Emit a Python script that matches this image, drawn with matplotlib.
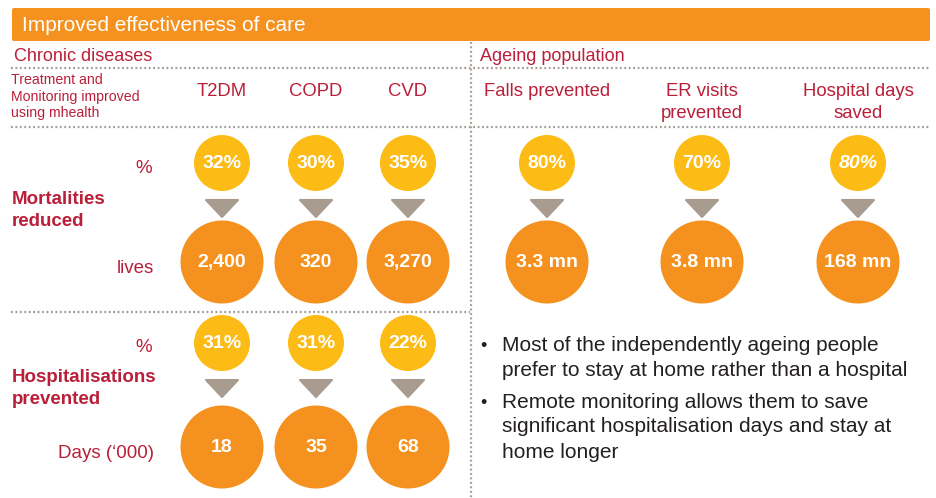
import matplotlib
matplotlib.use("Agg")
import matplotlib.pyplot as plt
from matplotlib.patches import Circle, Polygon, FancyBboxPatch

plt.rcParams['font.family'] = ['Liberation Sans', 'DejaVu Sans']

# ---- data ----
title = "Improved effectiveness of care"
chronic_title = "Chronic diseases"
ageing_title = "Ageing population"
chronic_categories = ["T2DM", "COPD", "CVD"]
ageing_categories = ["Falls prevented", "ER visits\nprevented", "Hospital days\nsaved"]
mortality_pct = ["32%", "30%", "35%"]
mortality_lives = ["2,400", "320", "3,270"]
hosp_pct = ["31%", "31%", "22%"]
hosp_days = ["18", "35", "68"]
ageing_pct = ["80%", "70%", "80%"]
ageing_values = ["3.3 mn", "3.8 mn", "168 mn"]
header_note = ["Treatment and", "Monitoring improved", "using mhealth"]
bullets = [["Most of the independently ageing people",
            "prefer to stay at home rather than a hospital"],
           ["Remote monitoring allows them to save",
            "significant hospitalisation days and stay at",
            "home longer"]]

# ---- style ----
ORANGE = "#F5921F"
YELLOW = "#FDBC15"
GREY_TRI = "#A89B8F"
CRIMSON = "#BA1F3A"
DOT = "#A39A92"
DARK = "#231F20"

fig = plt.figure(figsize=(9.37, 4.98), dpi=100)
ax = fig.add_axes([0, 0, 1, 1])
ax.set_xlim(0, 937)
ax.set_ylim(498, 0)
ax.set_aspect('equal')
ax.axis('off')

# header
ax.add_patch(FancyBboxPatch((12, 8), 918, 33, boxstyle="round,pad=0,rounding_size=2",
                            fc=ORANGE, ec='none'))
ax.text(22, 25, title, color='white', fontsize=15, va='center', ha='left')

# section titles
ax.text(14, 56, chronic_title, color=CRIMSON, fontsize=13, va='center')
ax.text(480, 56, ageing_title, color=CRIMSON, fontsize=13, va='center')

# dotted lines
dkw = dict(color=DOT, lw=1.6, ls=(0, (0.8, 1.2)))
ax.plot([11, 931], [68, 68], **dkw)
ax.plot([11, 931], [127, 127], **dkw)
ax.plot([11, 470], [312, 312], **dkw)
ax.plot([471, 471], [42, 498], **dkw)

# header row
for i, line in enumerate(header_note):
    ax.text(11, 80 + 16.5 * i, line, color=CRIMSON, fontsize=10.2, va='center', ha='left')
chronic_x = [222, 316, 408]
for x, c in zip(chronic_x, chronic_categories):
    ax.text(x, 91, c, color=CRIMSON, fontsize=13.3, ha='center', va='center')
ageing_x = [547, 702, 858]
for x, c in zip(ageing_x, ageing_categories):
    for j, line in enumerate(c.split("\n")):
        ax.text(x, 91 + 22 * j, line, color=CRIMSON, fontsize=13.3, ha='center', va='center')


def flow(x, y_top, y_bot, top_label, bot_label, italic=False):
    ax.add_patch(Circle((x, y_top), 28, fc=YELLOW, ec='none'))
    ax.text(x, y_top, top_label, color='white', fontsize=14, fontweight='bold',
            ha='center', va='center', style='italic' if italic else 'normal')
    tri_top = y_top + 37
    ax.add_patch(Polygon([[x - 16, tri_top], [x + 16, tri_top], [x, tri_top + 17]],
                         closed=True, fc=GREY_TRI, ec=GREY_TRI, lw=1.5, joinstyle='round'))
    ax.add_patch(Circle((x, y_bot), 41.5, fc=ORANGE, ec='none'))
    ax.text(x, y_bot, bot_label, color='white', fontsize=14, fontweight='bold',
            ha='center', va='center')


# mortality row
for x, p, v in zip(chronic_x, mortality_pct, mortality_lives):
    flow(x, 163, 262, p, v)
# hospitalisation row
for x, p, v in zip(chronic_x, hosp_pct, hosp_days):
    flow(x, 343, 447, p, v)
# ageing
for i, (x, p, v) in enumerate(zip(ageing_x, ageing_pct, ageing_values)):
    flow(x, 163, 262, p, v, italic=(i == 2))

# row labels
ax.text(152, 168, "%", color=CRIMSON, fontsize=13.5, ha='right', va='center')
ax.text(12, 199, "Mortalities", color=CRIMSON, fontsize=13.5, fontweight='bold', ha='left', va='center')
ax.text(12, 221, "reduced", color=CRIMSON, fontsize=13.5, fontweight='bold', ha='left', va='center')
ax.text(154, 268, "lives", color=CRIMSON, fontsize=13.5, ha='right', va='center')
ax.text(152, 347, "%", color=CRIMSON, fontsize=13.5, ha='right', va='center')
ax.text(12, 377, "Hospitalisations", color=CRIMSON, fontsize=13.5, fontweight='bold', ha='left', va='center')
ax.text(12, 399, "prevented", color=CRIMSON, fontsize=13.5, fontweight='bold', ha='left', va='center')
ax.text(154, 453, "Days (\u2018000)", color=CRIMSON, fontsize=13.5, ha='right', va='center')

# bullets
bullet_y = [345, 402]
for y0, lines in zip(bullet_y, bullets):
    ax.text(480, y0 + 1, "\u2022", color=DARK, fontsize=13, ha='left', va='center')
    for j, line in enumerate(lines):
        ax.text(502, y0 + 25 * j, line, color=DARK, fontsize=15, ha='left', va='center')

fig.savefig("out.png", dpi=100)
